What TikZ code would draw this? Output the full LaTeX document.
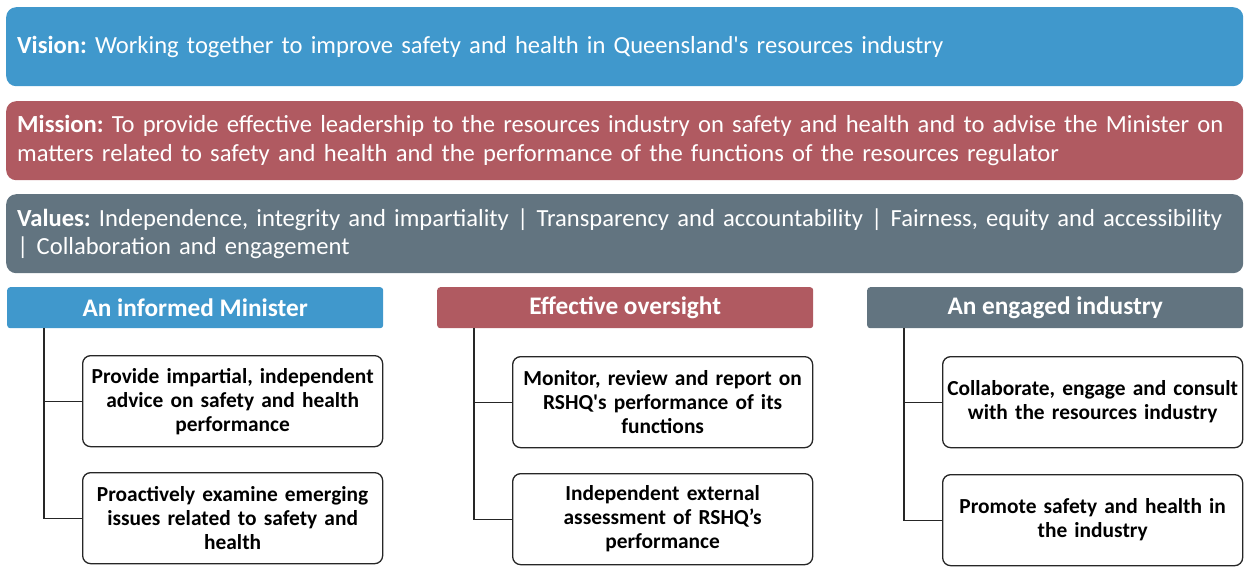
\documentclass[tikz,border=0pt]{standalone}
\usepackage{fontspec}
\setmainfont{Carlito}
\frenchspacing
\definecolor{cblue}{RGB}{64,152,204}
\definecolor{cred}{RGB}{176,90,97}
\definecolor{cgray}{RGB}{98,116,128}
\definecolor{cline}{RGB}{38,38,38}
\begin{document}
\begin{tikzpicture}[x=1pt,y=-1pt,
  band/.style={fill=#1, rounded corners=10pt, text=white, anchor=north west,
    text width=1215pt, inner xsep=11pt, inner ysep=0pt, minimum height=79pt, align=left,
    font=\fontsize{24.6}{28.5}\selectfont},
  head/.style={fill=#1, rounded corners=3pt, text=white, anchor=north west,
    minimum width=376pt, minimum height=41pt, inner sep=0pt,
    font=\fontsize{25.3}{28}\selectfont\bfseries},
  item/.style={draw=cline, line width=1.3pt, rounded corners=8pt, anchor=north west,
    text width=296pt, inner xsep=2pt, inner ysep=0pt, minimum height=91pt, align=center,
    font=\fontsize{21.4}{24}\selectfont\bfseries},
  conn/.style={draw=cline, line width=1.3pt}
]
\useasboundingbox (0,0) rectangle (1244,566);

\node[band=cblue] (vision) at (6,7) {\textbf{Vision:} Working together to improve safety and health in Queensland\textquotesingle s resources industry};
\node[band=cred] (mission) at (6,101) {\textbf{Mission:} To provide effective leadership to the resources industry on safety and health and to advise the Minister on\\matters related to safety and health and the performance of the functions of the resources regulator};
\node[band=cgray] (values) at (6,194) {\textbf{Values:} Independence, integrity and impartiality | Transparency and accountability | Fairness, equity and accessibility\\| Collaboration and engagement};

\node[head=cblue] (h1) at (7,287) {An informed Minister};
\node[head=cred] (h2) at (437,287) {Effective oversight};
\node[head=cgray] (h3) at (867,287) {An engaged industry};

\node[item] (c11) at (82,355) {Provide impartial, independent\\advice on safety and health\\performance};
\node[item] (c12) at (82,472) {Proactively examine emerging\\issues related to safety and\\health};
\node[item] (c21) at (512,356) {Monitor, review and report on\\RSHQ\textquotesingle s performance of its\\functions};
\node[item] (c22) at (512,473) {Independent external\\assessment of RSHQ’s\\performance};
\node[item] (c31) at (942,356) {Collaborate, engage and consult\\with the resources industry};
\node[item] (c32) at (942,474) {Promote safety and health in\\the industry};

\draw[conn] ([xshift=37pt]h1.south west) |- (c11.west);
\draw[conn] ([xshift=37pt]h1.south west) |- (c12.west);
\draw[conn] ([xshift=37pt]h2.south west) |- (c21.west);
\draw[conn] ([xshift=37pt]h2.south west) |- (c22.west);
\draw[conn] ([xshift=37pt]h3.south west) |- (c31.west);
\draw[conn] ([xshift=37pt]h3.south west) |- (c32.west);
\end{tikzpicture}
\end{document}
